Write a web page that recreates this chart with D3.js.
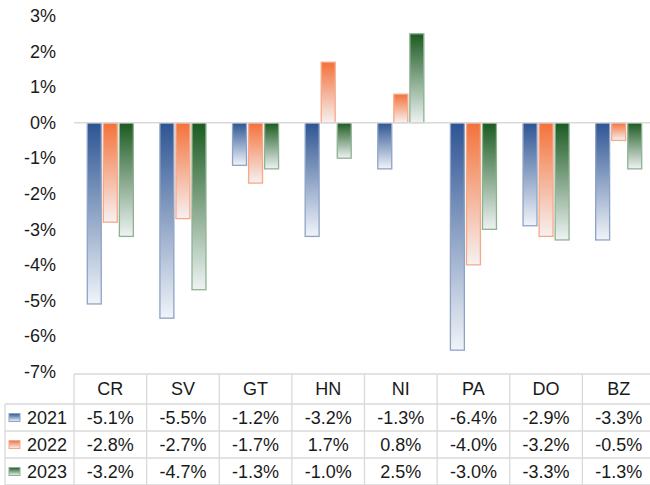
<!DOCTYPE html>
<html>
<head>
<meta charset="utf-8">
<script src="https://cdn.jsdelivr.net/npm/d3@7"></script>
<style>
  html, body { margin: 0; padding: 0; background: #ffffff; }
  svg { display: block; font-family: "Liberation Sans", Arial, sans-serif; }
</style>
</head>
<body>
<svg id="chart" width="650" height="485"></svg>
<script>
const categories = ["CR", "SV", "GT", "HN", "NI", "PA", "DO", "BZ"];
const seriesNames = ["2021", "2022", "2023"];
const values2021 = [-5.1, -5.5, -1.2, -3.2, -1.3, -6.4, -2.9, -3.3];
const values2022 = [-2.8, -2.7, -1.7, 1.7, 0.8, -4.0, -3.2, -0.5];
const values2023 = [-3.2, -4.7, -1.3, -1.0, 2.5, -3.0, -3.3, -1.3];
const yTicks = [3, 2, 1, 0, -1, -2, -3, -4, -5, -6, -7];

const seriesValues = [values2021, values2022, values2023];
const topColors = ["#2d5493", "#f4713a", "#1b5a20"];
const bottomColors = ["#f1f4f9", "#f6f1f1", "#eef3f3"];
const strokeColors = ["#8ea3c6", "#f6a98a", "#8fb292"];
const FONT = "Liberation Sans, Arial, sans-serif";
const FS = "18px";

const svg = d3.select("#chart");
const defs = svg.append("defs");
seriesNames.forEach((s, i) => {
  const g = defs.append("linearGradient").attr("id", "grad" + i)
    .attr("x1", 0).attr("y1", 0).attr("x2", 0).attr("y2", 1);
  g.append("stop").attr("offset", "0%").attr("stop-color", topColors[i]);
  g.append("stop").attr("offset", "100%").attr("stop-color", bottomColors[i]);
});

const fmt = v => (v < 0 ? "-" : "") + Math.abs(v).toFixed(1) + "%";
const y = d3.scaleLinear().domain([-7, 3]).range([371.5, 16]);
const x = d3.scaleBand().domain(categories).range([74, 655]).paddingInner(0.366).paddingOuter(0.183);
const xs = d3.scaleBand().domain(seriesNames).range([0, x.bandwidth()]).paddingInner(0.13);

// y axis labels
const yAxis = d3.axisLeft(y).tickValues(yTicks).tickSize(0).tickPadding(0)
  .tickFormat(d => (d < 0 ? "-" : "") + Math.abs(d) + "%");
const ya = svg.append("g").attr("transform", "translate(56,0)").call(yAxis);
ya.select(".domain").remove();
ya.selectAll("text").attr("font-size", FS).attr("fill", "#1a1a1a")
  .attr("font-family", FONT);

// bars
seriesNames.forEach((s, i) => {
  svg.append("g").selectAll("rect").data(categories).join("rect")
    .attr("x", c => x(c) + xs(s))
    .attr("width", xs.bandwidth())
    .attr("y", (c, j) => y(Math.max(0, seriesValues[i][j])))
    .attr("height", (c, j) => Math.abs(y(seriesValues[i][j]) - y(0)))
    .attr("fill", "url(#grad" + i + ")")
    .attr("stroke", strokeColors[i])
    .attr("stroke-width", 1.3);
});

// zero line
svg.append("line").attr("x1", 74).attr("x2", 650).attr("y1", y(0)).attr("y2", y(0))
  .attr("stroke", "#d9d9d9").attr("stroke-width", 1.5);

// data table
const lineColor = "#d9d9d9";
const headerTop = 374, rowH = 27, dataTop = 404;
const tbl = svg.append("g");
tbl.append("line").attr("x1", 74).attr("x2", 655).attr("y1", headerTop).attr("y2", headerTop)
  .attr("stroke", lineColor).attr("stroke-width", 1.3);
[0, 1, 2, 3].forEach(r => {
  const yy = dataTop + r * rowH;
  tbl.append("line").attr("x1", 5).attr("x2", 655).attr("y1", yy).attr("y2", yy)
    .attr("stroke", lineColor).attr("stroke-width", 1.3);
});
tbl.append("line").attr("x1", 5).attr("x2", 5).attr("y1", dataTop).attr("y2", dataTop + 3 * rowH)
  .attr("stroke", lineColor).attr("stroke-width", 1.3);
const colEdges = categories.map(c => x(c) - x.step() * x.paddingInner() / 2);
colEdges.push(655);
colEdges.forEach(xx => {
  tbl.append("line").attr("x1", xx).attr("x2", xx).attr("y1", headerTop).attr("y2", dataTop + 3 * rowH)
    .attr("stroke", lineColor).attr("stroke-width", 1.3);
});
tbl.selectAll("text.hdr").data(categories).join("text").attr("class", "hdr")
  .attr("x", c => x(c) + x.bandwidth() / 2)
  .attr("y", headerTop + 15)
  .attr("dy", "0.35em")
  .attr("text-anchor", "middle")
  .attr("font-size", FS).attr("fill", "#1a1a1a")
  .text(c => c);
seriesNames.forEach((s, i) => {
  const cy = dataTop + i * rowH + rowH / 2;
  tbl.append("rect").attr("x", 9).attr("y", cy - 4).attr("width", 11).attr("height", 8)
    .attr("fill", "url(#grad" + i + ")").attr("stroke", strokeColors[i]).attr("stroke-width", 1);
  tbl.append("text").attr("x", 27).attr("y", cy).attr("dy", "0.35em")
    .attr("font-size", FS).attr("fill", "#1a1a1a").text(s);
  tbl.append("g").selectAll("text").data(categories).join("text")
    .attr("x", c => x(c) + x.bandwidth() / 2)
    .attr("y", cy).attr("dy", "0.35em")
    .attr("text-anchor", "middle")
    .attr("font-size", FS).attr("fill", "#1a1a1a")
    .text((c, j) => fmt(seriesValues[i][j]));
});
</script>
</body>
</html>
